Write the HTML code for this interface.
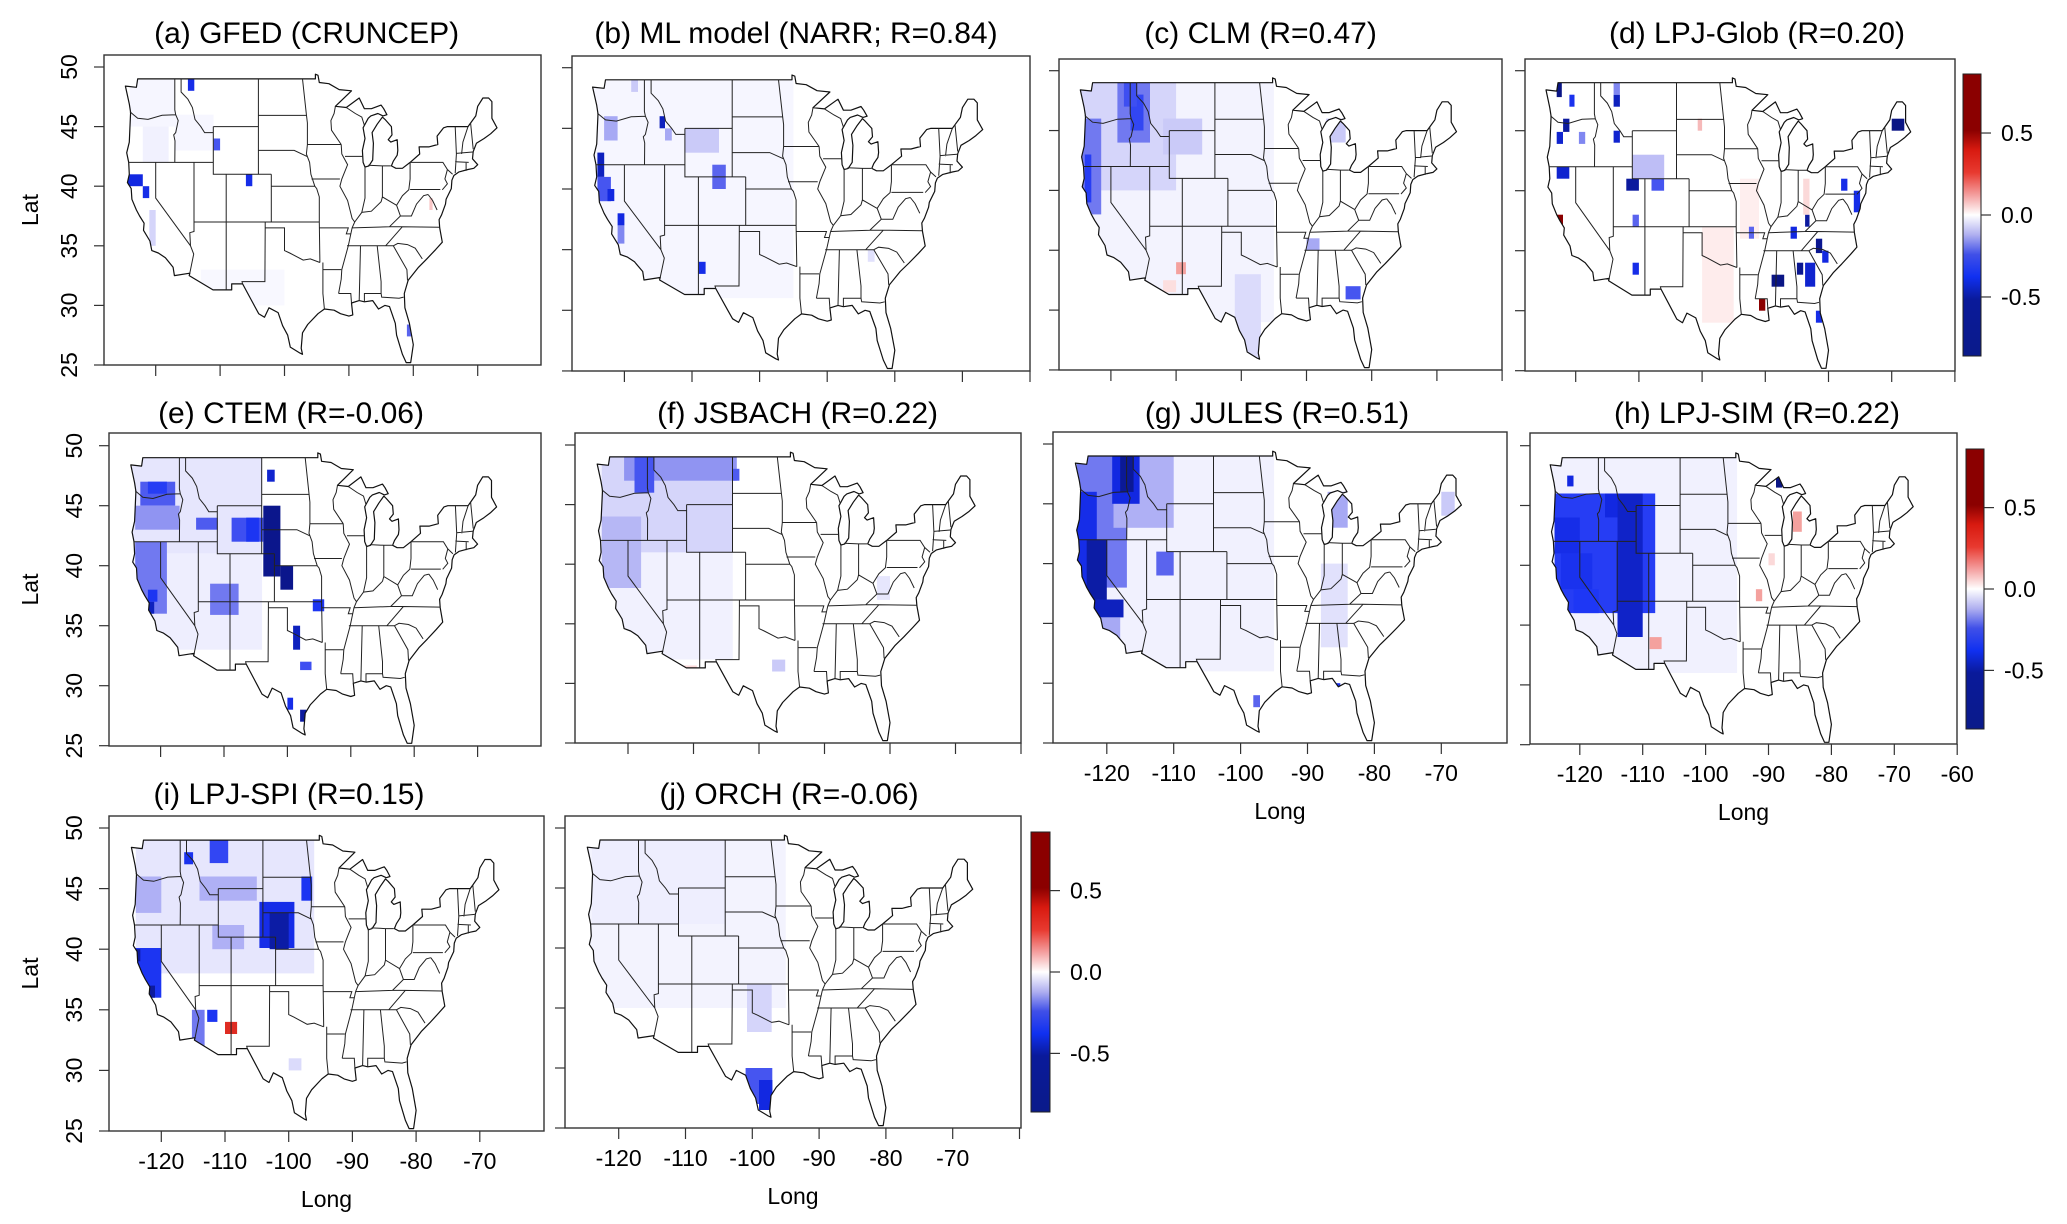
<!DOCTYPE html>
<html><head><meta charset="utf-8"><title>Model comparison maps</title>
<style>
html,body{margin:0;padding:0;background:#fff;}
svg{display:block;font-family:"Liberation Sans",Arial,sans-serif;}
</style></head>
<body>
<svg id="fig" width="2067" height="1224" viewBox="0 0 2067 1224" xmlns="http://www.w3.org/2000/svg">
<defs id="defs">
<linearGradient id="cbgrad" x1="0" y1="0" x2="0" y2="1">
<stop offset="0" stop-color="#8b0000"/>
<stop offset="0.2" stop-color="#8b0000"/>
<stop offset="0.27" stop-color="#d81a10"/>
<stop offset="0.35" stop-color="#e83a30"/>
<stop offset="0.43" stop-color="#f4a0a0"/>
<stop offset="0.5" stop-color="#ffffff"/>
<stop offset="0.57" stop-color="#b0b0f0"/>
<stop offset="0.64" stop-color="#4050e8"/>
<stop offset="0.72" stop-color="#1030f0"/>
<stop offset="0.8" stop-color="#0a1a9a"/>
<stop offset="1" stop-color="#0a1a8a"/>
</linearGradient>
</defs>
</svg>
<script>
// ---- data: panel titles ----
const panelTitles = ["(a) GFED (CRUNCEP)","(b) ML model (NARR; R=0.84)","(c) CLM (R=0.47)","(d) LPJ-Glob (R=0.20)","(e) CTEM (R=-0.06)","(f) JSBACH (R=0.22)","(g) JULES (R=0.51)","(h) LPJ-SIM (R=0.22)","(i) LPJ-SPI (R=0.15)","(j) ORCH (R=-0.06)"];
const latTicks = [25,30,35,40,45,50];
const lonTicks = [-120,-110,-100,-90,-80,-70,-60];
const cbTicks = [0.5,0.0,-0.5];
// ---- data: grid cells [lon0, lat0, lon1, lat1, value] ----
const cellsA = [[-124,45,-117,49,-0.02],[-122,42,-118,45,-0.03],[-117,43,-111,46,-0.02],[-124.3,40,-122,41,-0.55],[-122,39,-121,40,-0.5],[-115,48,-114,49,-0.5],[-111,43,-110,44,-0.3],[-106,40,-105,41,-0.5],[-121,35,-120,38,-0.08],[-81,27.4,-80.2,28.4,-0.25],[-77.5,38,-77,39,0.1],[-113,30,-100,33,-0.015]];
const cellsB = [[-124.5,31,-95,49,-0.02],[-111,43,-106,45,-0.1],[-124,41,-123,43,-0.65],[-124,39,-122,41,-0.3],[-122.5,39,-121.5,40,-0.55],[-121,37,-120,38,-0.55],[-121,35.5,-120,37,-0.2],[-114.8,45,-114,46,-0.65],[-114,44,-113,45,-0.15],[-123,44,-121,46,-0.15],[-119,48,-118,49,-0.1],[-107,40,-105,42,-0.25],[-109,33,-108,34,-0.5],[-84,34,-83,35,-0.06]];
const cellsC = [[-125,29,-95,49,-0.025],[-125,40,-110,49,-0.08],[-124.5,38,-121.5,46,-0.22],[-124,39,-123,43,-0.38],[-119,44,-114,49,-0.22],[-117,45,-115,48,-0.35],[-118,47,-116,49,-0.32],[-112,43,-106,46,-0.1],[-101,26,-97,33,-0.07],[-87,44,-84,46,-0.1],[-84,30.9,-81.7,32,-0.3],[-90,35,-88,36,-0.15],[-110,33,-108.5,34,0.15],[-112,31.5,-110,32.5,0.06]];
const cellsD = [[-100,29,-95,37,0.04],[-94,36,-91,41,0.035],[-123,47.8,-122.2,49,-0.85],[-121,47,-120.2,48,-0.45],[-114,47,-113,48,-0.65],[-114,48,-113,49,-0.2],[-122,44.9,-121,46,-0.75],[-123,43.9,-122,44.9,-0.6],[-119.5,43.9,-118.5,44.9,-0.2],[-114,44,-113,45,-0.6],[-123,41,-121,42,-0.6],[-111,41,-106,43,-0.12],[-112,40,-110,41,-0.75],[-108,40,-106,41,-0.3],[-123,37,-122,38,0.65],[-111,33,-110,34,-0.5],[-70,45,-68,46,-0.85],[-78,40,-77,41,-0.5],[-76,38.2,-75,40,-0.5],[-83.7,37,-83,38,-0.75],[-86,36,-85,37,-0.55],[-92.6,36,-91.8,37,-0.25],[-82,34.8,-81,36,-0.8],[-81,34,-80,35,-0.55],[-85,33,-84,34,-0.8],[-83.7,32,-82.1,34,-0.6],[-89,32,-87,33,-0.85],[-91,30,-90,31,0.7],[-82,29,-81,30,-0.5],[-100.7,45,-100,46,0.12],[-84,38,-83,41,0.07],[-111,37,-110,38,-0.25]];
const cellsE = [[-124.5,41,-104,49,-0.05],[-124.5,33,-104,41,-0.035],[-123.2,45,-117.7,47,-0.28],[-122,46,-119,47,-0.38],[-124,43,-117,45,-0.18],[-114.4,43,-111,44,-0.28],[-108.8,42,-103.8,44,-0.32],[-106.5,42,-104.5,44,-0.42],[-103.8,39.1,-101.1,45,-0.82],[-103.2,47,-102,48,-0.6],[-101.1,38,-99.1,40,-0.82],[-124,36,-119,42,-0.22],[-124.5,38,-123.7,39,-0.75],[-123.2,36,-121,37,-0.65],[-122,37,-120.5,38,-0.42],[-112.2,35.9,-107.7,38.5,-0.22],[-96,36.2,-94.2,37.2,-0.42],[-99.1,33,-98,35,-0.65],[-98,31.3,-96.2,32,-0.32],[-100,28,-99.1,29,-0.5],[-98,27,-97,28,-0.75]];
const cellsF = [[-124.5,32,-104,49,-0.03],[-124,41,-104,49,-0.08],[-120.6,47,-103.4,49,-0.18],[-119,46,-116,49,-0.3],[-104,47,-103,48,-0.28],[-124,38,-118,44,-0.13],[-78.8,43.5,-77.3,44,-0.25],[-111.5,31,-109.5,31.5,0.07],[-98,31,-96,32,-0.1],[-82,37,-80,39,-0.05]];
const cellsG = [[-124.5,31,-95,49,-0.03],[-124.5,38,-117,49,-0.22],[-119,43,-110,49,-0.14],[-124.5,37,-121.5,46,-0.5],[-123,37,-120,42,-0.72],[-122.7,35.5,-117.5,37,-0.65],[-119.2,45,-115.1,49,-0.55],[-118,46,-116,49,-0.78],[-112.6,39,-110,41,-0.25],[-122,33,-118,35.5,-0.15],[-87,43,-84,46,-0.15],[-86.2,29,-85.1,30,-0.45],[-98.1,28,-97.1,29,-0.25],[-88,33,-84,40,-0.06],[-70,44,-68,46,-0.1]];
const cellsH = [[-124.5,31,-95,49,-0.03],[-124,36,-108,46,-0.38],[-114,34,-110,46,-0.62],[-124,41,-120,44,-0.5],[-123,38,-118,41,-0.45],[-121,36,-117,38,-0.4],[-116,44,-114,46,-0.55],[-122,46.6,-121,47.5,-0.55],[-88.8,46.5,-87.8,47.5,-0.85],[-84,46.5,-83,47.5,-0.5],[-86.1,42.8,-84.7,44.5,0.15],[-108.9,33,-107,34,0.15],[-92,37,-91,38,0.15],[-90,40,-89,41,0.07]];
const cellsI = [[-124,38,-96,49,-0.05],[-104.6,40.1,-99.1,43.9,-0.5],[-103,40,-100,43,-0.72],[-112.4,47.1,-109.5,49,-0.35],[-116.4,47,-115,48,-0.45],[-98,44,-96.3,46,-0.42],[-124.4,36,-120,40.1,-0.42],[-124.4,39,-123.3,40,-0.75],[-122,36,-121,37,-0.75],[-112.8,34,-111.2,35,-0.42],[-110,33,-108.1,34,0.35],[-115.2,32,-113.2,35,-0.22],[-124,43,-120,46,-0.14],[-114,44,-105,46,-0.14],[-112,40,-107,42,-0.14],[-100,30,-98,31,-0.07]];
const cellsJ = [[-124.5,35,-95,49,-0.025],[-124,42,-104,49,-0.035],[-100.8,33,-97.1,37,-0.08],[-101,27,-97,30,-0.3],[-99,26.5,-97,29,-0.55]];
const panelCells = [cellsA,cellsB,cellsC,cellsD,cellsE,cellsF,cellsG,cellsH,cellsI,cellsJ];

// ---- geometry (lon/lat) ----
const usOutline = [[-124.7,48.4],[-123.0,48.3],[-122.8,49.0],[-95.2,49.0],[-95.2,49.4],[-94.8,49.3],[-94.6,48.7],[-93.1,48.6],[-91.5,48.1],[-89.6,48.0],[-92.1,46.7],[-90.4,46.6],[-88.4,47.4],[-87.6,46.5],[-86.5,46.5],[-85.0,46.8],[-84.6,46.5],[-84.1,46.0],[-84.7,45.9],[-85.5,46.1],[-86.6,45.9],[-87.0,45.7],[-87.8,44.9],[-87.5,44.0],[-87.9,43.0],[-87.8,42.0],[-87.5,41.6],[-86.9,41.7],[-86.3,42.2],[-86.2,43.6],[-86.4,44.5],[-85.6,45.2],[-84.8,45.8],[-84.4,45.6],[-83.4,45.0],[-83.3,44.3],[-83.9,43.9],[-83.5,43.7],[-82.5,43.9],[-82.4,43.0],[-82.5,42.6],[-83.1,42.1],[-83.4,41.7],[-82.7,41.5],[-81.7,41.5],[-80.5,42.0],[-79.0,42.7],[-79.1,43.3],[-77.6,43.3],[-76.2,43.5],[-76.3,44.2],[-75.3,44.9],[-74.7,45.0],[-71.5,45.0],[-71.1,45.3],[-70.3,45.9],[-70.0,46.7],[-69.2,47.4],[-68.3,47.4],[-67.8,47.1],[-67.8,45.7],[-67.0,44.9],[-68.0,44.4],[-69.0,44.0],[-70.2,43.6],[-70.7,42.9],[-70.8,42.3],[-70.0,41.8],[-70.6,41.5],[-71.5,41.4],[-72.9,41.2],[-73.7,40.9],[-74.0,40.5],[-74.1,39.8],[-74.9,38.9],[-75.0,38.5],[-75.6,37.6],[-76.0,37.2],[-75.9,36.5],[-75.5,35.3],[-76.5,34.7],[-77.9,33.9],[-79.2,33.2],[-80.8,32.1],[-81.4,31.0],[-81.3,29.8],[-80.6,28.5],[-80.0,26.7],[-80.4,25.2],[-81.1,25.2],[-81.7,25.9],[-82.6,27.5],[-82.8,28.5],[-83.7,29.9],[-84.4,30.0],[-85.4,29.7],[-86.3,30.4],[-87.6,30.3],[-88.4,30.4],[-89.6,30.2],[-89.4,29.2],[-90.0,29.1],[-91.3,29.3],[-92.3,29.6],[-93.8,29.7],[-94.8,29.3],[-96.4,28.4],[-97.2,27.7],[-97.4,26.4],[-97.2,25.9],[-97.6,26.0],[-99.1,26.5],[-99.5,27.5],[-100.3,28.3],[-101.0,29.4],[-102.4,29.8],[-103.1,29.0],[-104.0,29.3],[-104.7,30.0],[-106.5,31.8],[-108.2,31.8],[-108.2,31.3],[-111.1,31.3],[-114.8,32.5],[-114.7,32.7],[-117.1,32.5],[-117.3,33.2],[-118.5,34.0],[-119.6,34.4],[-120.6,34.6],[-120.9,35.4],[-121.9,36.3],[-121.8,36.9],[-122.5,37.5],[-123.0,38.0],[-123.7,38.9],[-123.8,39.8],[-124.4,40.3],[-124.1,41.0],[-124.2,42.0],[-124.5,42.8],[-124.1,43.7],[-123.9,46.2],[-124.1,46.9],[-124.7,48.4]];
const stateLines = [
[[-124.0,46.25],[-122.8,45.7],[-121.2,45.6],[-119.0,45.95],[-116.9,46.0]],
[[-117.04,49],[-117.04,46.4],[-116.9,46.0]],
[[-116.9,46.0],[-116.5,45.5],[-116.9,44.5],[-117.2,44.3],[-117.0,43.8],[-117.03,42.0]],
[[-124.2,42.0],[-111.05,42.0]],
[[-120.0,42.0],[-120.0,39.0],[-114.6,35.0]],
[[-114.6,35.0],[-114.1,34.3],[-114.7,32.7]],
[[-114.05,42.0],[-114.05,36.2],[-114.7,36.1],[-114.6,35.0]],
[[-116.05,49],[-116.05,47.9],[-115.0,47.3],[-114.3,46.6],[-113.9,45.6],[-113.0,45.0],[-112.4,44.5],[-111.05,44.5]],
[[-111.05,45.0],[-111.05,41.0],[-109.05,41.0]],
[[-111.05,45.0],[-104.05,45.0]],
[[-109.05,41.0],[-109.05,31.3]],
[[-114.05,37.0],[-102.05,37.0]],
[[-111.05,41.0],[-102.05,41.0]],
[[-104.05,49],[-104.05,41.0]],
[[-102.05,41.0],[-102.05,37.0]],
[[-103.0,37.0],[-103.0,36.5],[-103.05,32.0],[-106.6,32.0],[-106.5,31.8]],
[[-104.05,45.94],[-96.56,45.94]],
[[-104.05,43.0],[-98.5,43.0],[-96.5,42.5]],
[[-102.05,40.0],[-95.3,40.0]],
[[-102.05,37.0],[-94.6,37.0]],
[[-103.0,36.5],[-100.0,36.5],[-100.0,34.6],[-99.2,34.4],[-97.1,33.8],[-96.0,33.9],[-94.5,33.6]],
[[-94.6,37.0],[-94.5,33.6]],
[[-94.04,33.6],[-94.04,31.0],[-93.8,29.7]],
[[-94.04,33.0],[-91.2,33.0]],
[[-91.6,31.0],[-89.7,31.0],[-89.6,30.2]],
[[-97.2,49.0],[-96.6,46.0],[-96.45,45.3],[-96.45,43.5],[-96.6,42.7],[-96.1,42.0],[-95.9,41.0],[-95.3,40.0]],
[[-96.45,43.5],[-91.2,43.5]],
[[-92.1,46.7],[-92.3,46.1],[-92.8,45.5],[-92.7,44.7],[-91.2,43.5]],
[[-95.8,40.6],[-91.4,40.6]],
[[-91.2,43.5],[-91.1,42.7],[-90.2,41.8],[-91.1,40.6],[-91.4,40.0],[-90.2,38.8],[-89.5,37.3],[-89.1,37.0],[-89.5,36.5],[-90.1,35.0],[-91.1,33.0],[-91.2,32.2],[-91.6,31.0]],
[[-94.6,36.5],[-90.1,36.5],[-90.4,36.0],[-89.7,36.0]],
[[-94.6,37.0],[-94.6,39.1],[-95.0,39.8],[-95.3,40.0]],
[[-90.6,42.5],[-87.8,42.5]],
[[-90.4,46.6],[-89.0,46.1],[-88.0,45.8],[-87.6,45.1]],
[[-87.5,41.7],[-87.5,39.0],[-88.0,37.8]],
[[-87.0,41.76],[-84.8,41.7],[-83.5,41.7]],
[[-84.8,41.7],[-84.8,39.1]],
[[-89.1,37.0],[-88.0,37.8],[-86.5,37.9],[-85.0,38.7],[-84.8,39.1],[-82.6,38.4]],
[[-82.6,38.4],[-81.7,39.2],[-80.7,39.7],[-80.5,40.6],[-80.5,42.0]],
[[-89.5,36.5],[-83.7,36.6],[-81.7,36.6],[-75.9,36.55]],
[[-82.6,38.4],[-82.0,37.5],[-83.7,36.6]],
[[-82.0,37.5],[-80.3,37.5],[-79.5,38.5],[-78.4,39.2],[-77.7,39.3]],
[[-80.5,39.72],[-75.8,39.72]],
[[-80.5,42.0],[-75.4,42.0],[-74.7,41.4],[-73.9,41.0]],
[[-74.7,41.4],[-75.1,40.6],[-74.7,40.2],[-75.5,39.7]],
[[-77.7,39.3],[-77.0,38.8],[-76.3,38.0]],
[[-73.5,45.0],[-73.3,42.7],[-73.5,41.1]],
[[-71.5,45.0],[-72.3,43.7],[-72.5,42.7]],
[[-73.5,42.05],[-71.4,42.0]],
[[-71.8,42.0],[-71.8,41.3]],
[[-73.3,42.75],[-70.8,42.87]],
[[-71.1,45.3],[-70.7,43.1]],
[[-81.7,36.6],[-84.3,35.0]],
[[-90.3,35.0],[-83.1,35.0]],
[[-88.2,35.0],[-88.4,30.4]],
[[-85.6,35.0],[-85.0,32.0],[-85.0,31.0]],
[[-87.6,30.3],[-87.6,31.0],[-85.0,31.0],[-84.9,30.7],[-82.2,30.6],[-81.5,30.7]],
[[-83.1,35.0],[-81.0,33.0],[-80.9,32.1]],
[[-83.1,35.0],[-82.4,35.2],[-80.9,35.1],[-79.7,34.8],[-78.6,33.9]]
];

// ---- layout ----
const panels = [
 {box:[104,55,541,365],x120:155.7,k:6.44,y50:67,m:11.92,tc:306.6,ty:32,nt:6,xl:false,yl:true},
 {box:[572,56,1030,371],x120:624.4,k:6.76,y50:67.7,m:12.13,tc:796,ty:32,nt:7,xl:false,yl:false},
 {box:[1059,59,1502,370],x120:1110.9,k:6.52,y50:70.7,m:11.97,tc:1260.6,ty:32,nt:7,xl:false,yl:false},
 {box:[1525,59,1955,371],x120:1575.7,k:6.32,y50:70.7,m:12.0,tc:1757,ty:32,nt:7,xl:false,yl:false,cb:[1963,74,1981,356]},
 {box:[109,433,541,746],x120:160.6,k:6.34,y50:445.7,m:12.0,tc:291,ty:412,nt:6,xl:false,yl:true},
 {box:[575,433,1021,743],x120:628,k:6.55,y50:445,m:11.92,tc:797.6,ty:412,nt:7,xl:false,yl:false},
 {box:[1053,432,1507,743],x120:1106.8,k:6.69,y50:444,m:11.96,tc:1277,ty:412,nt:6,xl:true,yl:false},
 {box:[1530,433,1957,744],x120:1579.8,k:6.29,y50:445.7,m:11.96,tc:1757,ty:412,nt:7,xl:true,yl:false,cb:[1966,449,1984,729]},
 {box:[109,816,544,1131],x120:161.3,k:6.37,y50:828,m:12.12,tc:289,ty:793,nt:6,xl:true,yl:true},
 {box:[565,816,1021,1128],x120:618.7,k:6.68,y50:828,m:12.0,tc:789,ty:793,nt:7,xl:true,yl:false,xlN:6,cb:[1031,832,1050,1112]}
];

const NS='http://www.w3.org/2000/svg';
const svg=document.getElementById('fig');
const defs=document.getElementById('defs');
function mk(tag,attrs,parent){const e=document.createElementNS(NS,tag);for(const a in attrs)e.setAttribute(a,attrs[a]);(parent||svg).appendChild(e);return e;}

const cstops=[[-0.86,[10,20,130]],[-0.72,[12,28,165]],[-0.55,[18,40,225]],[-0.4,[30,55,245]],[-0.25,[90,100,238]],[-0.12,[190,190,246]],[-0.04,[236,236,254]],[0,[255,255,255]],[0.04,[254,236,236]],[0.12,[246,185,185]],[0.25,[236,80,70]],[0.4,[216,26,16]],[0.55,[139,0,0]],[0.86,[139,0,0]]];
function colorOf(v){
  if(v<=cstops[0][0])return 'rgb('+cstops[0][1].join(',')+')';
  for(let i=1;i<cstops.length;i++){
    if(v<=cstops[i][0]){const a=cstops[i-1],b=cstops[i];const t=(v-a[0])/(b[0]-a[0]);
      const c=a[1].map((x,j)=>Math.round(x+(b[1][j]-x)*t));return 'rgb('+c.join(',')+')';}
  }
  return 'rgb('+cstops[cstops.length-1][1].join(',')+')';
}

panels.forEach((p,pi)=>{
  const g=mk('g',{});
  
  
  const X=lon=>p.x120+(lon+120)*p.k;
  const Y=lat=>p.y50+(50-lat)*p.m;
  const [bx0,by0,bx1,by1]=p.box;
  const d='M'+usOutline.map(q=>X(q[0]).toFixed(1)+','+Y(q[1]).toFixed(1)).join('L')+'Z';
  const cp=mk('clipPath',{id:'clip'+pi},defs);
  mk('path',{d:d},cp);
  // title
  const t=mk('text',{x:p.tc,y:p.ty+11,'text-anchor':'middle','font-size':30,fill:'#000'},g);
  t.textContent=panelTitles[pi];
  
  
  // cells
  const cg=mk('g',{'clip-path':'url(#clip'+pi+')'},g);
  
  
  panelCells[pi].forEach(c=>{
    const r=mk('rect',{x:X(c[0]).toFixed(1),y:Y(c[3]).toFixed(1),width:(X(c[2])-X(c[0])).toFixed(1),height:(Y(c[1])-Y(c[3])).toFixed(1),fill:colorOf(c[4])},cg);
    
    
  });
  // outline
  const ol=mk('path',{d:d,fill:'none',stroke:'#111','stroke-width':1.2,'stroke-linejoin':'round'},g);
  
  
  const sd=stateLines.map(l=>'M'+l.map(q=>X(q[0]).toFixed(1)+','+Y(q[1]).toFixed(1)).join('L')).join('');
  const sl=mk('path',{d:sd,fill:'none',stroke:'#222','stroke-width':1},g);
  
  
  // box
  const bx=mk('rect',{x:bx0,y:by0,width:bx1-bx0,height:by1-by0,fill:'none',stroke:'#333','stroke-width':1.4},g);
  
  
  // y ticks
  latTicks.forEach(lt=>{
    const y=Y(lt);
    const tk=mk('line',{x1:bx0,x2:bx0-10,y1:y,y2:y,stroke:'#333','stroke-width':1.2},g);
    
    
    if(p.yl){
      const tl=mk('text',{x:0,y:0,transform:'translate('+(bx0-27)+','+y+') rotate(-90)','text-anchor':'middle','font-size':23,fill:'#000'},g);
      tl.textContent=lt;
      
      
    }
  });
  if(p.yl){
    const ly=(by0+by1)/2;
    const lab=mk('text',{x:0,y:0,transform:'translate('+38+','+ly+') rotate(-90)','text-anchor':'middle','font-size':23,fill:'#000'},g);
    lab.textContent='Lat';
    
    
  }
  // x ticks
  const nl=p.xlN||p.nt;
  for(let i=0;i<p.nt;i++){
    const x=X(lonTicks[i]);
    const tk=mk('line',{x1:x,x2:x,y1:by1,y2:by1+11,stroke:'#333','stroke-width':1.2},g);
    
    
    if(p.xl&&i<nl){
      const tl=mk('text',{x:x,y:by1+38,'text-anchor':'middle','font-size':23,fill:'#000'},g);
      tl.textContent=lonTicks[i];
      
      
    }
  }
  if(p.xl){
    const lab=mk('text',{x:(bx0+bx1)/2,y:by1+76,'text-anchor':'middle','font-size':23,fill:'#000'},g);
    lab.textContent='Long';
    
    
  }
  // colorbar
  if(p.cb){
    const [cx0,cy0,cx1,cy1]=p.cb;
    const cbg=mk('g',{},g);
    
    
    mk('rect',{x:cx0,y:cy0,width:cx1-cx0,height:cy1-cy0,fill:'url(#cbgrad)',stroke:'#222','stroke-width':1},cbg);
    const vmax=0.86;
    cbTicks.forEach(v=>{
      const y=cy0+(vmax-v)/(2*vmax)*(cy1-cy0);
      mk('line',{x1:cx1,x2:cx1+10,y1:y,y2:y,stroke:'#333','stroke-width':1.2},cbg);
      const tl=mk('text',{x:cx1+20,y:y+8,'font-size':23,fill:'#000'},cbg);
      tl.textContent=v.toFixed(1);
      
      
    });
  }
});
</script>
</body></html>
